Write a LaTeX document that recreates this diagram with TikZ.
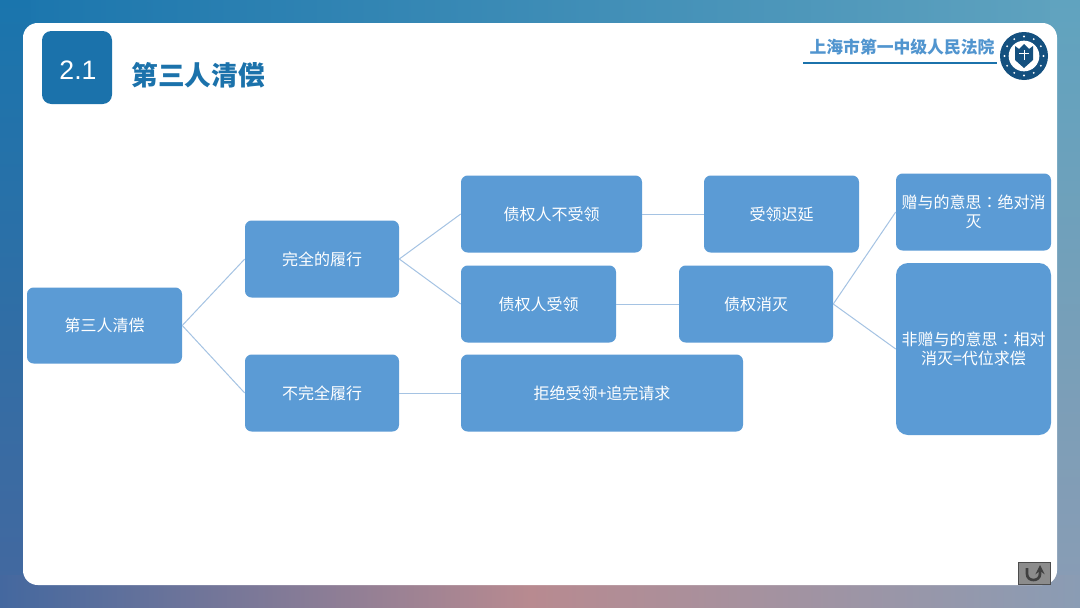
\documentclass[tikz,border=0pt]{standalone}
\usepackage{fontspec}
\setmainfont{Liberation Sans}
\newfontfamily\cjk{Noto Sans CJK SC}
\newfontfamily\cjkpunct{Noto Sans CJK TC}
\definecolor{boxblue}{HTML}{5B9BD5}
\definecolor{linkblue}{HTML}{A5C3E3}
\definecolor{courtblue}{HTML}{1B72AB}
\definecolor{sealblue}{HTML}{14507F}
\definecolor{bgleft}{HTML}{1A75AD}
\definecolor{bgmid}{HTML}{2E90B6}
\definecolor{bgright}{HTML}{60A3BF}
\definecolor{bgcorner}{HTML}{8A9CB4}
\definecolor{bglow}{HTML}{44689F}
\definecolor{bgrose}{HTML}{B88A90}
\tikzstyle{stepbox}=[
        fill=boxblue,
        text=white,
        rounded corners=5pt,
        inner sep=0pt,
        align=center,
        font=\cjk\fontsize{12}{14.5}\selectfont
]
\tikzstyle{link}=[
        draw=linkblue,
        line width=0.75pt
]
\begin{document}
\begin{tikzpicture}[x=0.75pt,y=-0.75pt]
                        \useasboundingbox (0,0) rectangle (1080,607);

                        \shade[left color=bgleft,middle color=bgmid,right color=bgright] (0,0) rectangle (1080,30);
                        \shade[top color=bgright,bottom color=bgcorner] (1050,0) rectangle (1080,607);
                        \shade[top color=bgleft,middle color=bgleft!90!bglow,bottom color=bglow] (0,0) rectangle (30,607);
                        \shade[left color=bglow,right color=bgrose] (0,575) rectangle (530,607);
                        \shade[left color=bgrose,right color=bgcorner] (530,575) rectangle (1080,607);
                        \fill[white,rounded corners=11pt] (23,23) rectangle (1057,585);

                        \fill[courtblue,rounded corners=7pt] (42,31) rectangle (112,104);
                        \node[text=white,font=\fontsize{20}{24}\selectfont] (num) at (78,70) {2.1};
                        \node[text=courtblue,font=\cjk\bfseries\fontsize{20}{24}\selectfont] (title) at (198,75) {第三人清偿};

                        \node[text=boxblue!85!courtblue,font=\cjk\bfseries\fontsize{12.6}{15}\selectfont] (court) at (902,47) {上海市第一中级人民法院};
                        \draw[courtblue,line width=1.2pt] (803,63) -- (997,63);

                        \fill[sealblue] (1024,56) circle (18pt);
                        \fill[white] (1024,56) circle (11.5pt);
                        \foreach \i in {0,30,...,330} {
                            \fill[white] (1024,56) ++(\i:19.5) circle (0.8pt);
                        }
                        \fill[sealblue] (1015,46) -- (1019,49) -- (1024,44) -- (1029,49) -- (1033,46) -- (1033,60) -- (1024,68) -- (1015,60) -- cycle;
                        \draw[white,line width=0.6pt] (1024,50) -- (1024,60) (1019,53) -- (1029,53);

                        \node[stepbox,minimum width=116.25pt,minimum height=57pt] (root) at (104.5,325.5) {第三人清偿};
                        \node[stepbox,minimum width=115.5pt,minimum height=57.75pt] (full) at (322,259) {完全的履行};
                        \node[stepbox,minimum width=115.5pt,minimum height=57.75pt] (partial) at (322,393) {不完全履行};
                        \node[stepbox,minimum width=135.75pt,minimum height=57.75pt] (refuse) at (551.5,214) {债权人不受领};
                        \node[stepbox,minimum width=116.25pt,minimum height=57.75pt] (accept) at (538.5,304) {债权人受领};
                        \node[stepbox,minimum width=211.5pt,minimum height=57.75pt] (reject) at (602,393) {拒绝受领+追完请求};
                        \node[stepbox,minimum width=116.25pt,minimum height=57.75pt] (delay) at (781.5,214) {受领迟延};
                        \node[stepbox,minimum width=115.5pt,minimum height=57.75pt] (extinct) at (756,304) {债权消灭};
                        \node[stepbox,minimum width=116.25pt,minimum height=57.75pt] (gift) at (973.5,212) {赠与的意思{\cjkpunct ：}绝对消\\灭};
                        \node[stepbox,rounded corners=9pt,minimum width=116.25pt,minimum height=129pt] (nogift) at (973.5,349) {非赠与的意思{\cjkpunct ：}相对\\消灭=代位求偿};

                        \draw[link] (root.east) -- (full.west);
                        \draw[link] (root.east) -- (partial.west);
                        \draw[link] (full.east) -- (refuse.west);
                        \draw[link] (full.east) -- (accept.west);
                        \draw[link] (partial.east) -- (reject.west);
                        \draw[link] (refuse.east) -- (delay.west);
                        \draw[link] (accept.east) -- (extinct.west);
                        \draw[link] (extinct.east) -- (gift.west);
                        \draw[link] (extinct.east) -- (nogift.west);

                        \draw[fill=black!45,draw=black!70,line width=0.75pt] (1018,562) rectangle (1050,584);
                        \draw[black!75,line width=2pt,-stealth] (1027,568) -- (1027,574) .. controls (1027,582) and (1040,582) .. (1040,574) -- (1040,565);
                    \end{tikzpicture}
\end{document}
